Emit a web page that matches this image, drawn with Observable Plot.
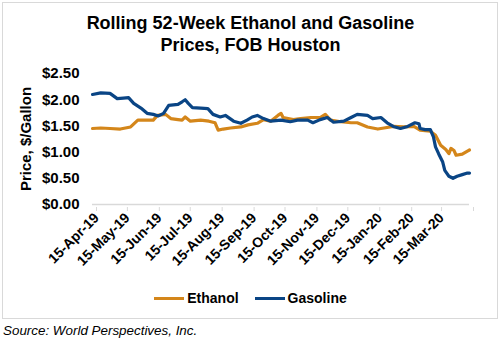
<!DOCTYPE html>
<html>
<head>
<meta charset="utf-8">
<script src="https://cdn.jsdelivr.net/npm/d3@7"></script>
<script src="https://cdn.jsdelivr.net/npm/@observablehq/plot@0.6"></script>
<style>
  html, body { margin: 0; padding: 0; background: #fff; }
  body { width: 501px; height: 339px; overflow: hidden; position: relative; font-family: "Liberation Sans", Arial, sans-serif; }
  #frame { position: absolute; left: 2px; top: 2px; width: 494px; height: 315px; border: 1px solid #d9d9d9; }
  #title { position: absolute; left: 0; top: 12px; width: 501px; text-align: center; font-weight: bold; font-size: 18px; line-height: 22px; color: #000; }
  #chart { position: absolute; left: 0; top: 0; }
  #legend { position: absolute; left: 0; top: 290px; width: 501px; text-align: center; font-weight: bold; font-size: 14px; color: #000; }
  #legend span.item { display: inline-block; margin: 0 8px; }
  #legend span.sw { display: inline-block; width: 30px; height: 3px; vertical-align: middle; margin-right: 3px; position: relative; top: -1px; }
  #source { position: absolute; left: 3px; top: 323px; font-style: italic; font-size: 13.4px; color: #000; }
</style>
</head>
<body>
<div id="frame"></div>
<div id="chart"></div>
<div id="title">Rolling 52-Week Ethanol and Gasoline<br>Prices, FOB Houston</div>
<div id="legend"></div>
<div id="source">Source: World Perspectives, Inc.</div>
<script>
const seriesNames = ["Ethanol", "Gasoline"];
const seriesColors = ["#d4861a", "#0a4585"];

const ethanolDates = ["2019-04-15","2019-04-23","2019-05-02","2019-05-12","2019-05-22","2019-05-29","2019-06-07","2019-06-13","2019-06-17","2019-06-25","2019-06-30","2019-07-07","2019-07-11","2019-07-14","2019-07-19","2019-07-29","2019-08-06","2019-08-12","2019-08-15","2019-08-20","2019-08-27","2019-09-06","2019-09-13","2019-09-22","2019-09-28","2019-10-05","2019-10-12","2019-10-15","2019-10-17","2019-10-27","2019-11-03","2019-11-13","2019-11-22","2019-11-27","2019-12-02","2019-12-12","2019-12-22","2019-12-28","2020-01-07","2020-01-17","2020-01-23","2020-02-01","2020-02-11","2020-02-21","2020-02-27","2020-03-08","2020-03-13","2020-03-18","2020-03-23","2020-03-26","2020-03-28","2020-03-31","2020-04-02","2020-04-08","2020-04-13","2020-04-15"];
const ethanolPrices = [1.45,1.46,1.45,1.44,1.48,1.61,1.61,1.61,1.70,1.72,1.64,1.62,1.61,1.67,1.59,1.61,1.59,1.56,1.42,1.44,1.46,1.48,1.52,1.55,1.62,1.59,1.70,1.74,1.66,1.62,1.64,1.66,1.66,1.72,1.61,1.58,1.56,1.56,1.48,1.44,1.46,1.49,1.48,1.49,1.42,1.40,1.32,1.13,1.05,0.97,1.07,1.03,0.94,0.96,1.02,1.04];

const gasolineDates = ["2019-04-15","2019-04-23","2019-05-02","2019-05-09","2019-05-15","2019-05-20","2019-05-25","2019-06-01","2019-06-07","2019-06-13","2019-06-18","2019-06-23","2019-06-28","2019-07-07","2019-07-11","2019-07-14","2019-07-17","2019-07-21","2019-07-29","2019-08-05","2019-08-10","2019-08-17","2019-08-22","2019-08-30","2019-09-06","2019-09-12","2019-09-17","2019-09-22","2019-09-28","2019-10-05","2019-10-15","2019-10-24","2019-10-31","2019-11-10","2019-11-15","2019-11-22","2019-11-29","2019-12-05","2019-12-15","2019-12-22","2019-12-28","2020-01-07","2020-01-12","2020-01-20","2020-01-26","2020-02-01","2020-02-08","2020-02-15","2020-02-22","2020-02-26","2020-02-27","2020-03-03","2020-03-08","2020-03-11","2020-03-13","2020-03-16","2020-03-20","2020-03-22","2020-03-26","2020-03-30","2020-04-03","2020-04-08","2020-04-13","2020-04-15"];
const gasolinePrices = [2.10,2.13,2.12,2.02,2.03,2.04,1.93,1.84,1.74,1.72,1.69,1.74,1.89,1.91,1.96,2.00,1.93,1.85,1.84,1.83,1.72,1.67,1.70,1.59,1.55,1.61,1.67,1.70,1.64,1.59,1.61,1.58,1.61,1.61,1.56,1.62,1.66,1.57,1.59,1.66,1.72,1.70,1.64,1.66,1.56,1.49,1.45,1.49,1.56,1.54,1.45,1.43,1.43,1.29,1.10,0.97,0.81,0.65,0.54,0.50,0.54,0.57,0.60,0.60];

const yTicks = [0, 0.5, 1, 1.5, 2, 2.5];
const xTickDates = ["2019-04-15","2019-05-15","2019-06-15","2019-07-15","2019-08-15","2019-09-15","2019-10-15","2019-11-15","2019-12-15","2020-01-15","2020-02-15","2020-03-15","2020-04-15"];

const parse = d3.utcParse("%Y-%m-%d");
const rows = [];
ethanolDates.forEach((d, i) => rows.push({series: "Ethanol", date: parse(d), price: ethanolPrices[i]}));
gasolineDates.forEach((d, i) => rows.push({series: "Gasoline", date: parse(d), price: gasolinePrices[i]}));
const xTicks = xTickDates.map(parse);
const lastTick = xTicks[xTicks.length - 1];
const fmtDate = d3.utcFormat("%d-%b-%y");

const chart = Plot.plot({
  width: 501,
  height: 320,
  marginTop: 73,
  marginBottom: 116,
  marginLeft: 92,
  marginRight: 32,
  style: {fontFamily: "'Liberation Sans', Arial, sans-serif", fontSize: "14px", fontWeight: "bold", color: "#000", background: "transparent"},
  x: {type: "utc", domain: [xTicks[0], lastTick]},
  y: {domain: [0, 2.5]},
  color: {domain: seriesNames, range: seriesColors},
  marks: [
    Plot.axisY({ticks: yTicks, tickSize: 0, tickPadding: 13, tickFormat: d => "$" + d.toFixed(2), fontSize: 15, label: "Price, $/Gallon", labelAnchor: "center", labelArrow: "none", labelOffset: 72}),
    Plot.ruleY([0], {stroke: "#d9d9d9", strokeWidth: 1.5}),
    Plot.axisX({ticks: xTicks, tickSize: 4, stroke: "#d9d9d9", fill: "#000", tickRotate: -45, tickPadding: 4, dx: 4, dy: 3, fontSize: 14, tickFormat: d => (+d === +lastTick ? "" : fmtDate(d)), label: null}),
    Plot.line(rows, {x: "date", y: "price", z: "series", stroke: "series", strokeWidth: 3.2, curve: "linear"})
  ]
});
document.getElementById("chart").appendChild(chart);

const legend = document.getElementById("legend");
seriesNames.forEach((name, i) => {
  const item = document.createElement("span");
  item.className = "item";
  const sw = document.createElement("span");
  sw.className = "sw";
  sw.style.background = seriesColors[i];
  item.appendChild(sw);
  item.appendChild(document.createTextNode(name));
  legend.appendChild(item);
});
</script>
</body>
</html>
